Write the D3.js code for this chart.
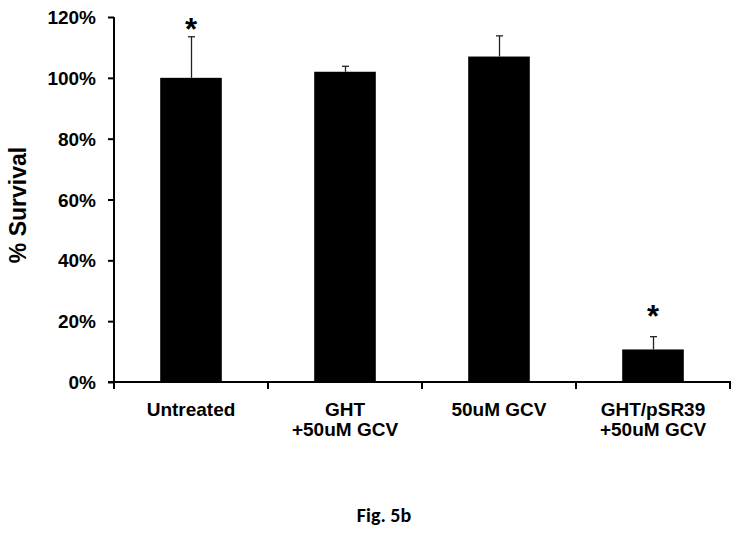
<!DOCTYPE html>
<html>
<head>
<meta charset="utf-8">
<script src="https://cdn.jsdelivr.net/npm/d3@7"></script>
<style>
  body { margin: 0; background: #fff; }
  svg { display: block; }
  text { font-family: "Liberation Sans", Arial, sans-serif; font-weight: bold; fill: #000; }
</style>
</head>
<body>
<svg id="chart" width="742" height="538"></svg>
<script>
const categories = [["Untreated"], ["GHT", "+50uM GCV"], ["50uM GCV"], ["GHT/pSR39", "+50uM GCV"]];
const values = [100, 102, 107, 10.7];
const errors = [13.5, 1.8, 6.8, 4.2];
const asteriskLevels = [117.5, null, null, 23];
const yTicks = [0, 20, 40, 60, 80, 100, 120];

const svg = d3.select("#chart");
const x0 = 114, x1 = 730, yTop = 17, yBot = 382;

const x = d3.scaleBand().domain(d3.range(categories.length)).range([x0, x1])
  .paddingInner(0.6).paddingOuter(0.3);
const y = d3.scaleLinear().domain([0, 120]).range([yBot, yTop]);

// bars
svg.append("g").selectAll("rect").data(values).join("rect")
  .attr("x", (d, i) => x(i)).attr("width", x.bandwidth())
  .attr("y", d => y(d)).attr("height", d => y(0) - y(d))
  .attr("fill", "#000");

// error bars (upper only)
const eg = svg.append("g").attr("stroke", "#222").attr("stroke-width", 1.3);
values.forEach((v, i) => {
  const cx = Math.round(x(i) + x.bandwidth() / 2) + 0.5;
  eg.append("line").attr("x1", cx).attr("x2", cx).attr("y1", y(v)).attr("y2", y(v + errors[i]));
  eg.append("line").attr("x1", cx - 3.5).attr("x2", cx + 3.5).attr("y1", y(v + errors[i])).attr("y2", y(v + errors[i]));
});

// asterisks
const stars = asteriskLevels.map((lv, i) => ({ lv, i })).filter(d => d.lv !== null);
svg.append("g").selectAll("text").data(stars).join("text")
  .attr("x", d => x(d.i) + x.bandwidth() / 2)
  .attr("y", d => y(d.lv) + 15)
  .attr("text-anchor", "middle")
  .style("font-size", "31px")
  .text("*");

// y axis
const yAxis = svg.append("g").attr("transform", `translate(${x0},0)`)
  .call(d3.axisLeft(y).tickValues(yTicks).tickFormat(d => d + "%").tickSize(6).tickPadding(12));
yAxis.select(".domain").attr("stroke", "#000").attr("stroke-width", 2)
  .attr("d", `M0,${yTop}V${yBot}`);
yAxis.selectAll(".tick line").attr("stroke", "#000").attr("stroke-width", 2);
yAxis.selectAll(".tick text").style("font-size", "19px").attr("dy", "0.35em");

// x axis
const xAxis = svg.append("g").attr("transform", `translate(0,${yBot})`);
xAxis.append("line").attr("x1", x0 - 6).attr("x2", x1 + 1).attr("y1", 0).attr("y2", 0)
  .attr("stroke", "#000").attr("stroke-width", 2);
const boundaries = d3.range(categories.length + 1).map(i => x0 + i * x.step());
xAxis.selectAll("line.tk").data(boundaries).join("line").attr("class", "tk")
  .attr("x1", d => d).attr("x2", d => d).attr("y1", 0).attr("y2", 7)
  .attr("stroke", "#000").attr("stroke-width", 2);

// category labels
const cl = svg.append("g");
categories.forEach((lines, i) => {
  const t = cl.append("text").attr("text-anchor", "middle").style("font-size", "19px");
  lines.forEach((l, j) => t.append("tspan").attr("x", x(i) + x.bandwidth() / 2)
    .attr("y", 416 + j * 20).text(l));
});

// y label
svg.append("text").attr("transform", "translate(26,205) rotate(-90)")
  .attr("text-anchor", "middle").style("font-size", "23px").text("% Survival");

// caption
svg.append("text").attr("x", 384).attr("y", 522).attr("text-anchor", "middle")
  .style("font-family", "Carlito, Lato, 'Open Sans', sans-serif").style("font-size", "20px")
  .text("Fig. 5b");
</script>
</body>
</html>
